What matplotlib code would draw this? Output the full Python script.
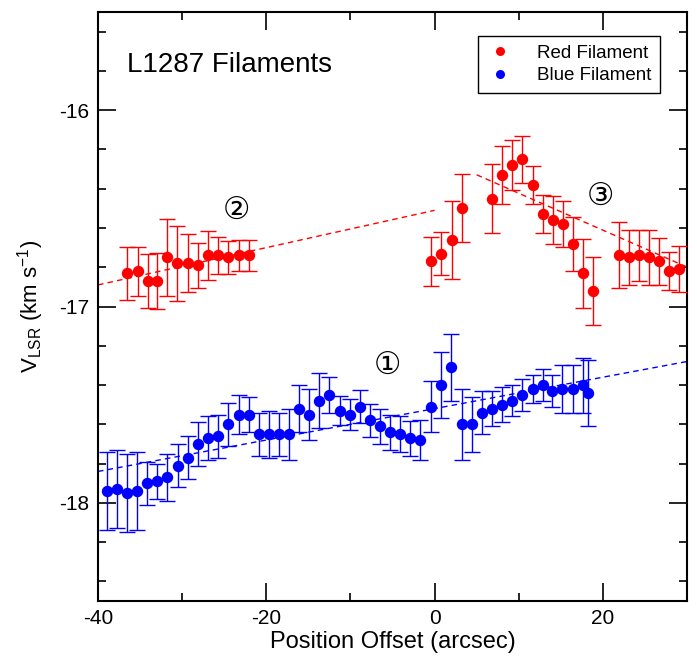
import numpy as np
import matplotlib
matplotlib.use('Agg')
import matplotlib.pyplot as plt
from matplotlib.ticker import MultipleLocator
from matplotlib.lines import Line2D

plt.rcParams['font.family'] = ['Liberation Sans', 'DejaVu Sans']
plt.rcParams['mathtext.fontset'] = 'custom'
plt.rcParams['mathtext.rm'] = 'Liberation Sans'
plt.rcParams['axes.unicode_minus'] = False

# red filament (offset in arcsec, V_LSR in km/s, 1-sigma error)
red_x = [-36.5, -35.3, -34.1, -32.95, -31.75, -30.56, -29.3, -28.1, -26.9, -25.7, -24.5, -23.3, -22.1,
         -0.39, 0.8, 2.02, 3.21, 6.87, 8.06, 9.25, 10.44, 11.67, 12.86, 14.05, 15.24, 16.46, 17.65, 18.85,
         21.9, 23.1, 24.3, 25.5, 26.7, 27.9, 29.1]
red_v = [-16.83, -16.82, -16.87, -16.87, -16.75, -16.78, -16.78, -16.79, -16.74, -16.74, -16.75, -16.74, -16.74,
         -16.77, -16.73, -16.66, -16.50, -16.45, -16.33, -16.28, -16.25, -16.38, -16.53, -16.56, -16.58, -16.68,
         -16.83, -16.92, -16.74, -16.75, -16.74, -16.75, -16.77, -16.82, -16.81]
red_err = [0.135, 0.125, 0.136, 0.145, 0.195, 0.19, 0.147, 0.115, 0.125, 0.096, 0.085, 0.08, 0.08,
           0.124, 0.11, 0.198, 0.173, 0.176, 0.15, 0.128, 0.12, 0.098, 0.098, 0.122, 0.119, 0.137, 0.175, 0.173,
           0.168, 0.139, 0.129, 0.138, 0.118, 0.097, 0.118]

# blue filament
blue_x = [-38.93, -37.74, -36.55, -35.36, -34.13, -32.94, -31.75, -30.5, -29.3, -28.1, -26.9, -25.7, -24.5,
          -23.3, -22.1, -20.9, -19.7, -18.45, -17.3, -16.1, -14.9, -13.7, -12.5, -11.3, -10.1, -8.9, -7.7,
          -6.5, -5.3, -4.1, -2.9, -1.7, -0.4, 0.8, 2.0, 3.2, 4.4, 5.6, 6.8, 8.0, 9.25, 10.4, 11.7, 12.9,
          14.0, 15.2, 16.5, 17.65, 18.25]
blue_v = [-17.94, -17.93, -17.95, -17.94, -17.90, -17.89, -17.87, -17.81, -17.77, -17.70, -17.67, -17.66, -17.60,
          -17.55, -17.55, -17.65, -17.65, -17.65, -17.65, -17.52, -17.55, -17.48, -17.45, -17.53, -17.55, -17.51,
          -17.58, -17.61, -17.64, -17.65, -17.67, -17.68, -17.51, -17.40, -17.31, -17.60, -17.60, -17.54, -17.52,
          -17.50, -17.48, -17.45, -17.42, -17.40, -17.43, -17.42, -17.42, -17.40, -17.44]
blue_err = [0.20, 0.20, 0.20, 0.20, 0.11, 0.09, 0.12, 0.11, 0.11, 0.11, 0.11, 0.11, 0.11, 0.10, 0.09, 0.11, 0.12,
            0.11, 0.13, 0.12, 0.13, 0.14, 0.09, 0.074, 0.08, 0.084, 0.085, 0.09, 0.09, 0.092, 0.089, 0.10, 0.13,
            0.17, 0.17, 0.18, 0.14, 0.11, 0.09, 0.09, 0.08, 0.08, 0.07, 0.08, 0.08, 0.12, 0.12, 0.14, 0.17]

# linear fits: (colour, x start, x end, slope, intercept)
fits = [
    ('#ff0000', -40, 0, 0.0095, -16.51),
    ('#ff0000', 5.0, 30, -0.0188, -16.235),
    ('#0000ff', -40, 30, 0.008, -17.52),
]

# segment labels
seg_labels = ['\u2460', '\u2461', '\u2462']
seg_x = [-5.56, -23.5, 19.76]
seg_y = [-17.30, -16.51, -16.44]

fig = plt.figure(figsize=(6.97, 6.57), dpi=100)
ax = fig.add_axes([0.1406, 0.0852, 0.8451, 0.8965])

for color, xs, v, e in [('#ff0000', red_x, red_v, red_err), ('#0000ff', blue_x, blue_v, blue_err)]:
    ax.errorbar(xs, v, yerr=e, fmt='o', color=color, ms=7.2, mec=color,
                elinewidth=1.0, capsize=6, capthick=1.0, zorder=3)

for color, x0, x1, m, b in fits:
    xx = np.array([x0, x1])
    ax.plot(xx, m * xx + b, color=color, lw=1.0, dashes=(4, 3), zorder=2)

for lab, x, y in zip(seg_labels, seg_x, seg_y):
    ax.text(x, y, lab, fontsize=22, ha='center', va='center',
            family=['DejaVu Sans', 'Noto Sans CJK SC'])

ax.text(0.05, 0.91, 'L1287 Filaments', transform=ax.transAxes, fontsize=20, va='center')

handles = [Line2D([], [], ls='none', marker='o', color='#ff0000', ms=6.5, mew=0),
           Line2D([], [], ls='none', marker='o', color='#0000ff', ms=6.5, mew=0)]
leg = ax.legend(handles, ['Red Filament', 'Blue Filament'], loc='upper right',
                bbox_to_anchor=(0.954, 0.959), borderaxespad=0, fontsize=13.5,
                fancybox=False, framealpha=1, edgecolor='black',
                handlelength=1.4, handletextpad=1.3, labelspacing=0.3, borderpad=0.45)
leg.get_frame().set_linewidth(1.0)

ax.set_xlim(-40, 30)
ax.set_ylim(-18.5, -15.5)
ax.xaxis.set_major_locator(MultipleLocator(20))
ax.xaxis.set_minor_locator(MultipleLocator(10))
ax.yaxis.set_major_locator(MultipleLocator(1))
ax.yaxis.set_minor_locator(MultipleLocator(0.2))
ax.tick_params(which='both', direction='in', top=True, right=True, labelsize=15, width=1.2)
ax.tick_params(which='major', length=13, pad=6)
ax.tick_params(which='minor', length=6)
for s in ax.spines.values():
    s.set_linewidth(1.5)

ax.set_xlabel('Position Offset (arcsec)', fontsize=17, labelpad=2)
ax.set_ylabel(r'V$_{\mathrm{LSR}}$ (km s$^{-1}$)', fontsize=16, labelpad=10)

fig.savefig('out.png', dpi=100)
